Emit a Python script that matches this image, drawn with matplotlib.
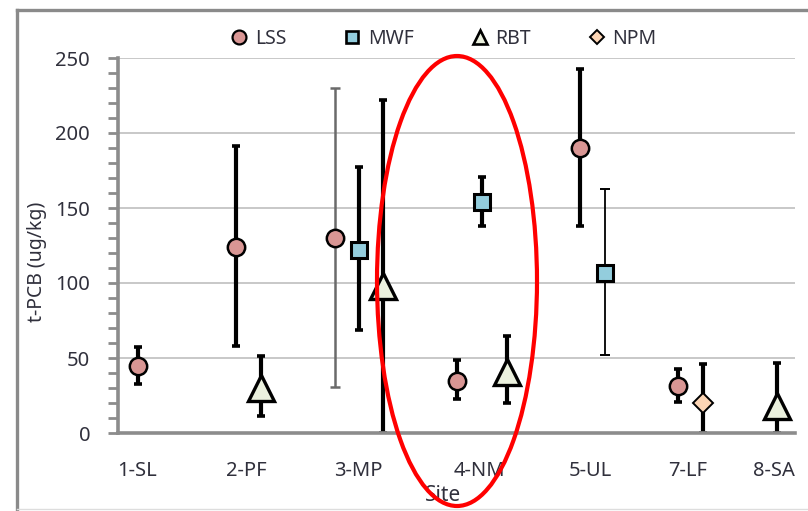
import matplotlib
matplotlib.use("Agg")
import matplotlib.pyplot as plt
from matplotlib.lines import Line2D
from matplotlib.patches import Ellipse

plt.rcParams['font.family'] = ['Noto Sans', 'DejaVu Sans']

# ---------------- data ----------------
site_labels = ["1-SL", "2-PF", "3-MP", "4-NM", "5-UL", "7-LF", "8-SA"]
site_pos = [0.20, 1.33, 2.48, 3.74, 4.88, 5.89, 6.78]

lss_x = [0.21, 1.22, 2.24, 3.51, 4.78, 5.79]
lss_y = [45, 124, 130, 35, 190, 31.5]
lss_lo = [32.7, 58, 31, 22.7, 138, 21]
lss_hi = [57.5, 191, 230, 48.7, 242.5, 43]

mwf_x = [2.49, 3.76, 5.04]
mwf_y = [122, 154, 107]
mwf_lo = [69, 138, 52]
mwf_hi = [177, 170.5, 162.7]

rbt_x = [1.48, 2.74, 4.02, 6.81]
rbt_y = [30, 98, 41, 18]
rbt_lo = [11.3, 0, 19.8, 0]
rbt_hi = [51.6, 222, 64.7, 47]

npm_x = [6.05]
npm_y = [20]
npm_lo = [0]
npm_hi = [45.8]

# ---------------- styles ----------------
thick = dict(color='black', lw=3.0, capsize=2.8, capthick=2.6)
thin_grey = dict(color='#6A6A6A', lw=1.8, capsize=3.6, capthick=1.8)
thin_black = dict(color='black', lw=1.3, capsize=3.6, capthick=1.4)

series = [
    (lss_x, lss_y, lss_lo, lss_hi, dict(marker='o', ms=12.5, mfc='#D99694', mec='black', mew=1.8),
     [thick, thick, thin_grey, thick, thick, thick]),
    (mwf_x, mwf_y, mwf_lo, mwf_hi, dict(marker='s', ms=11.5, mfc='#93CDDD', mec='black', mew=2.2),
     [thick, thick, thin_black]),
    (rbt_x, rbt_y, rbt_lo, rbt_hi, dict(marker='^', ms=18.5, mfc='#EBF1DE', mec='black', mew=2.4),
     [thick, thick, thick, thick]),
    (npm_x, npm_y, npm_lo, npm_hi, dict(marker='D', ms=10.5, mfc='#FCD5B5', mec='black', mew=1.4),
     [thick]),
]

text_col = '#30303C'
grid_col = '#C8C8C8'
spine_col = '#8C8C8C'

fig = plt.figure(figsize=(8.08, 5.11), dpi=100)
ax = fig.add_axes([118/808, (511-433)/511, (795-118)/808, (433-58)/511])

for xs, ys, los, his, mstyle, estyles in series:
    for x, y, lo, hi, es in zip(xs, ys, los, his, estyles):
        ax.errorbar([x], [y], yerr=[[y - lo], [hi - y]], fmt='none',
                    ecolor=es['color'], elinewidth=es['lw'], capsize=es['capsize'],
                    capthick=es['capthick'], zorder=3)
    ax.plot(xs, ys, linestyle='none', zorder=4, **mstyle)

ax.set_xlim(0, 7)
ax.set_ylim(0, 250)
ax.set_yticks(range(0, 251, 50))
ax.set_yticks(range(0, 251, 10), minor=True)
ax.yaxis.grid(True, which='major', color=grid_col, lw=1.4)
ax.set_axisbelow(True)
ax.tick_params(axis='y', which='both', direction='out', length=7, width=2.0,
               color=spine_col, labelsize=14.5, labelcolor=text_col, pad=13)
ax.set_xticks(site_pos)
ax.set_xticklabels(site_labels)
ax.tick_params(axis='x', length=0, labelsize=14.5, labelcolor=text_col, pad=20)

for s in ['top', 'right']:
    ax.spines[s].set_visible(False)
for s in ['left', 'bottom']:
    ax.spines[s].set_color(spine_col)
    ax.spines[s].set_linewidth(2.6)
    ax.spines[s].set_zorder(5)

ax.set_ylabel('t-PCB (ug/kg)', fontsize=14, color=text_col)
ax.yaxis.set_label_coords(-81/677, 0.457)
ax.yaxis.label.set_va('center')
fig.text(443/808, (511-495)/511, 'Site', fontsize=15, color=text_col,
         ha='center', va='center')

# legend
handles = [
    Line2D([], [], linestyle='none', marker='o', ms=10, mfc='#D99694', mec='black', mew=1.6),
    Line2D([], [], linestyle='none', marker='s', ms=9, mfc='#93CDDD', mec='black', mew=1.9),
    Line2D([], [], linestyle='none', marker='^', ms=10, mfc='#EBF1DE', mec='black', mew=1.9),
    Line2D([], [], linestyle='none', marker='D', ms=7.5, mfc='#FCD5B5', mec='black', mew=1.4),
]
leg = fig.legend(handles, ['LSS', 'MWF', 'RBT', 'NPM'], ncol=4, loc='center',
                 bbox_to_anchor=(444/808, (511-39)/511), frameon=False,
                 fontsize=14, handlelength=0.8, handletextpad=0.4,
                 columnspacing=3.0, labelcolor=text_col)

# outer frame of the chart area
fig.add_artist(Line2D([17/808, 17/808], [0, (511-10)/511], transform=fig.transFigure,
                      color='#8A8A8A', lw=2.4))
fig.add_artist(Line2D([17/808, 1], [(511-10)/511, (511-10)/511], transform=fig.transFigure,
                      color='#8A8A8A', lw=2.4))
fig.add_artist(Line2D([17/808, 1], [(511-509)/511, (511-509)/511], transform=fig.transFigure,
                      color='#DDDDDD', lw=1.0))

# red highlight ellipse
fig.add_artist(Ellipse((457/808, (511-281)/511), 160/808, 450/511, transform=fig.transFigure,
                       fill=False, edgecolor='#FF0000', lw=3.0, zorder=10))

fig.savefig('out.png', dpi=100)
